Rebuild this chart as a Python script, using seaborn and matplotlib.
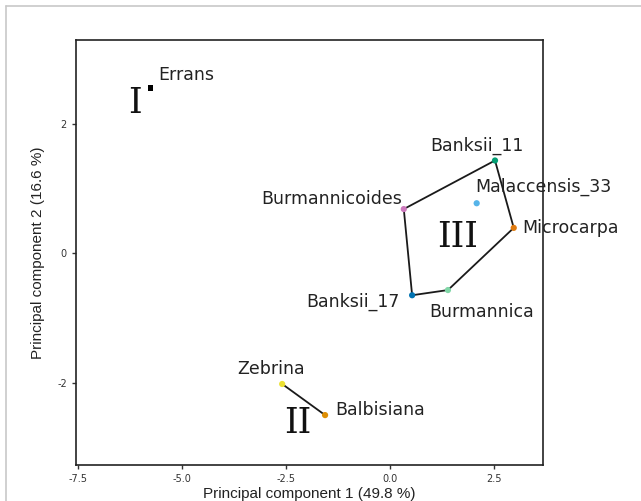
import matplotlib
matplotlib.use("Agg")
import matplotlib.pyplot as plt
import seaborn as sns
import pandas as pd
from matplotlib.lines import Line2D

# PCA scores
species = ["Errans", "Banksii_11", "Malaccensis_33", "Microcarpa", "Burmannicoides",
           "Banksii_17", "Burmannica", "Zebrina", "Balbisiana"]
pc1 = [-5.75, 2.52, 2.08, 2.97, 0.33, 0.53, 1.39, -2.59, -1.56]
pc2 = [2.55, 1.43, 0.77, 0.39, 0.68, -0.65, -0.57, -2.02, -2.50]
colors = ["#000000", "#029e73", "#56b4e9", "#e07b10", "#cc78bc",
          "#0173b2", "#7fd6a6", "#ece133", "#de8f05"]
markers = ["s", "o", "o", "o", "o", "o", "o", "o", "o"]
sizes = [14, 20, 20, 20, 20, 20, 20, 20, 20]

# groups (hulls)
hull3 = ["Burmannicoides", "Banksii_11", "Microcarpa", "Burmannica", "Banksii_17", "Burmannicoides"]
hull2 = ["Zebrina", "Balbisiana"]
groups = ["I", "II", "III"]
group_pos = [(-6.13, 2.32), (-2.21, -2.62), (1.61, 0.25)]

# label offsets in pixels (dx, dy, ha)
label_offsets = {
    "Errans": (8, 13, "left"),
    "Banksii_11": (-18, 15, "center"),
    "Malaccensis_33": (-1, 16, "left"),
    "Microcarpa": (9, 0, "left"),
    "Burmannicoides": (-2, 10, "right"),
    "Banksii_17": (-12, -7, "right"),
    "Burmannica": (-19, -22, "left"),
    "Zebrina": (-11, 15, "center"),
    "Balbisiana": (10, 5, "left"),
}

df = pd.DataFrame({"species": species, "pc1": pc1, "pc2": pc2, "size": sizes})

sns.set_style("ticks")
fig = plt.figure(figsize=(6.41, 5.01), dpi=100)
ax = fig.add_axes([0.1186, 0.0719, 0.729, 0.8483])

# hull lines
h3 = df.set_index("species").loc[hull3]
ax.plot(h3["pc1"], h3["pc2"], color="#1a1a1a", linewidth=1.3, zorder=2)
h2 = df.set_index("species").loc[hull2]
ax.plot(h2["pc1"], h2["pc2"], color="#1a1a1a", linewidth=1.3, zorder=2)

sns.scatterplot(data=df, x="pc1", y="pc2", hue="species", palette=colors,
                style="species", markers=markers, size="species",
                sizes=dict(zip(species, sizes)), edgecolor="none",
                legend=False, ax=ax, zorder=3)

for name, x, y in zip(species, pc1, pc2):
    dx, dy, ha = label_offsets[name]
    ax.annotate(name, (x, y), xytext=(dx, dy), textcoords="offset pixels",
                ha=ha, va="center", fontsize=12.5, color="#222222",
                family="DejaVu Sans")

for g, (gx, gy) in zip(groups, group_pos):
    ax.text(gx, gy, g, ha="center", va="center", fontsize=25,
            family="DejaVu Serif", color="#111111")

ax.set_xlim(-7.54, 3.68)
ax.set_ylim(-3.27, 3.29)
ax.set_xticks([-7.5, -5.0, -2.5, 0.0, 2.5])
ax.set_xticklabels(["-7.5", "-5.0", "-2.5", "0.0", "2.5"])
ax.set_yticks([-2, 0, 2])
ax.set_yticklabels(["-2", "0", "2"])
ax.tick_params(labelsize=7, colors="#333333", length=3, width=1)
for sp in ax.spines.values():
    sp.set_color("#222222")
    sp.set_linewidth(1.2)

ax.set_xlabel("Principal component 1 (49.8 %)", fontsize=11,
              family="Liberation Sans", color="#222222", labelpad=2)
ax.set_ylabel("Principal component 2 (16.6 %)", fontsize=11,
              family="Liberation Sans", color="#222222", labelpad=9)

# light frame of the original screenshot
fig.add_artist(Line2D([6 / 641, 1], [1 - 6 / 501, 1 - 6 / 501], color="#c8c8c8", linewidth=1.2))
fig.add_artist(Line2D([6 / 641, 6 / 641], [0, 1 - 6 / 501], color="#c8c8c8", linewidth=1.2))

fig.savefig("out.png", dpi=100)
